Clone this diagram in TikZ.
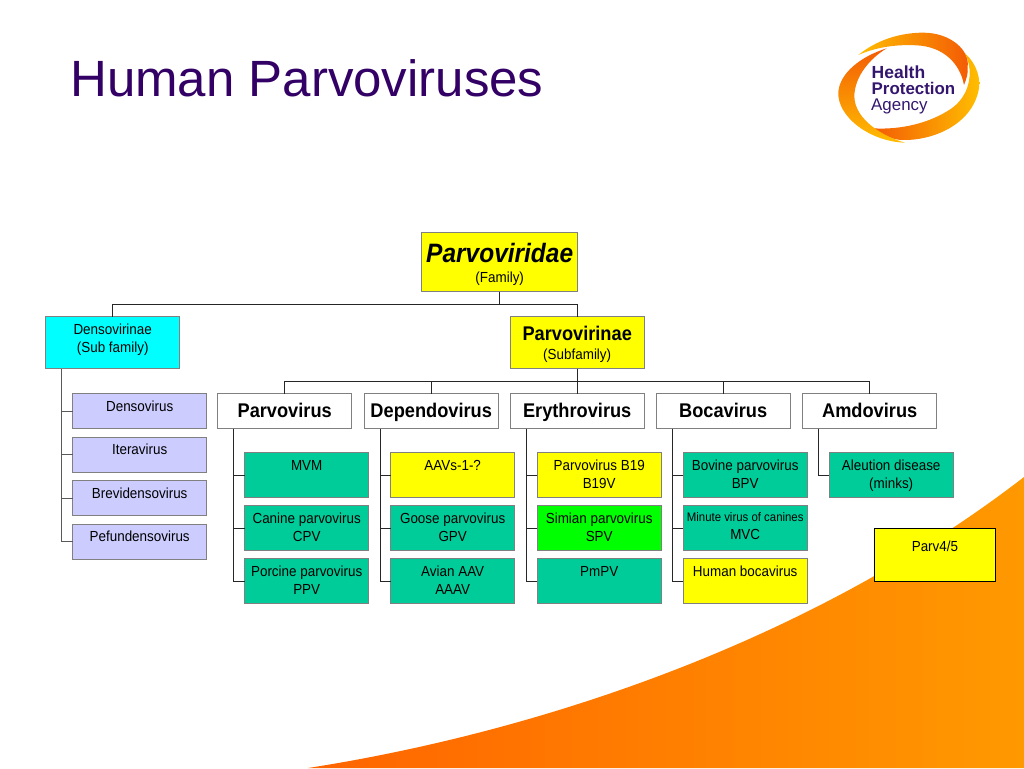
\documentclass[tikz,border=0pt]{standalone}
\usepackage{fontspec}
\setmainfont[FakeStretch=0.92]{Liberation Sans}
\newfontfamily\plainface{Liberation Sans}
\definecolor{hpatitle}{RGB}{51,0,102}
\definecolor{hpalogo}{RGB}{52,22,110}
\definecolor{seagreen}{RGB}{0,204,153}
\definecolor{lilac}{RGB}{204,204,255}
\definecolor{edgegrey}{RGB}{128,128,128}
\definecolor{swirlA}{RGB}{255,190,0}
\definecolor{swirlB}{RGB}{243,90,5}
\definecolor{pureyellow}{RGB}{255,255,0}
\definecolor{purecyan}{RGB}{0,255,255}
\definecolor{purelime}{RGB}{0,255,0}
\newcommand{\orgbox}[8]{%
  \pgfmathsetmacro{\bw}{#5-#3}\pgfmathsetmacro{\bh}{#6-#4}%
  \pgfmathsetmacro{\cx}{(#3+#5)/2-0.3}\pgfmathsetmacro{\cy}{(#4+#6)/2-0.3}%
  \node[orgnode,#2] (#1) at (\cx,\cy)
    {\parbox[t][\bh pt][t]{\bw pt}{\centering\rule{0pt}{\dimexpr #7pt-0.5pt\relax}#8}};}
\newcommand{\sized}[2]{\fontsize{#1}{#2}\selectfont}
\tikzset{
  orgnode/.style={draw=edgegrey,line width=0.9pt,inner sep=0pt,outer sep=0pt,
    font=\fontsize{14.6}{18}\selectfont,text=black},
  genus/.style={fill=white,font=\fontsize{19.8}{18}\selectfont\bfseries},
  leafgreen/.style={fill=seagreen},
  leafyellow/.style={fill=pureyellow},
  leaflime/.style={fill=purelime},
  leaflilac/.style={fill=lilac},
  link/.style={draw=black!85,line width=1pt},
  logotext/.style={anchor=base west,text=hpalogo,inner sep=0pt}
}
\begin{document}
\begin{tikzpicture}[x=1pt,y=-1pt]
\useasboundingbox (0,0) rectangle (1024,768);
% background swoosh
\begin{scope}
  \clip (308,768) .. controls (520,735) and (800,650) .. (1024,477) -- (1024,768) -- cycle;
  \shade[left color={rgb,255:red,255;green,100;blue,0},right color={rgb,255:red,255;green,153;blue,0}]
    (308,470) rectangle (1024,768);
\end{scope}
% title
\node[anchor=base west,inner sep=0pt,text=hpatitle,font=\plainface\fontsize{51}{55}\selectfont] (title) at (70,96) {Human Parvoviruses};
% logo
\begin{scope}[shift={(820,20)},x=0.3333pt,y=-0.3333pt]
  \begin{scope}
    \clip (115,105) .. controls (170,60) and (240,38) .. (310,38) .. controls (390,38) and (450,90) .. (443,140) .. controls (445,160) and (440,175) .. (432,195) .. controls (420,130) and (370,80) .. (290,76) .. controls (220,72) and (160,85) .. (115,105) -- cycle;
    \shade[left color=swirlA,right color=swirlB] (110,30) rectangle (450,200);
  \end{scope}
  \begin{scope}
    \clip (435,100) .. controls (470,130) and (485,180) .. (475,215) .. controls (450,320) and (330,362) .. (250,360) .. controls (215,360) and (185,345) .. (160,325) .. controls (240,330) and (330,310) .. (395,265) .. controls (445,230) and (465,160) .. (435,100) -- cycle;
    \shade[left color=swirlB,right color=swirlA] (155,95) rectangle (480,365);
  \end{scope}
  \begin{scope}
    \clip (200,85) .. controls (120,110) and (60,160) .. (55,215) .. controls (50,290) and (150,365) .. (255,368) .. controls (190,350) and (105,300) .. (103,230) .. controls (103,170) and (150,115) .. (200,85) -- cycle;
    \shade[top color=swirlB,bottom color=swirlA] (50,80) rectangle (260,370);
  \end{scope}
\end{scope}
\node[logotext,font=\plainface\fontsize{17.5}{18}\selectfont\bfseries] (logoa) at (871.5,78) {Health};
\node[logotext,font=\plainface\fontsize{16.9}{18}\selectfont\bfseries] (logob) at (871.5,94) {Protection};
\node[logotext,font=\plainface\fontsize{16.9}{18}\selectfont] (logoc) at (871,110.5) {Agency};
% top levels
\orgbox{family}{leafyellow}{422}{233}{578}{292}{30}{{\sized{26.6}{20}\bfseries\itshape Parvoviridae}\\[0pt]\sized{14.6}{20}(Family)}
\orgbox{parvoSub}{leafyellow}{510.5}{317}{644.5}{369}{24}{{\sized{19.8}{19}\bfseries Parvovirinae}\\\sized{14.6}{19}(Subfamily)}
\orgbox{densoSub}{fill=purecyan}{46}{317}{180}{369}{18}{Densovirinae\\(Sub family)}
% genera
\orgbox{gParvo}{genus}{218}{394}{352}{429}{24}{Parvovirus}
\orgbox{gDepend}{genus}{364.5}{394}{498.5}{429}{24}{Dependovirus}
\orgbox{gEryth}{genus}{510.5}{394}{644.5}{429}{24}{Erythrovirus}
\orgbox{gBoca}{genus}{656.5}{394}{790.5}{429}{24}{Bocavirus}
\orgbox{gAmdo}{genus}{803}{394}{937}{429}{24}{Amdovirus}
% densovirinae leaves
\orgbox{dA}{leaflilac}{73}{394}{207}{429}{18}{Densovirus}
\orgbox{dB}{leaflilac}{73}{437.5}{207}{472.5}{18}{Iteravirus}
\orgbox{dC}{leaflilac}{73}{481}{207}{516}{18}{Brevidensovirus}
\orgbox{dD}{leaflilac}{73}{524.5}{207}{559.5}{18}{Pefundensovirus}
% parvovirus leaves
\orgbox{pA}{leafgreen}{245}{453}{369}{498}{18}{MVM}
\orgbox{pB}{leafgreen}{245}{506}{369}{551}{18}{Canine parvovirus\\CPV}
\orgbox{pC}{leafgreen}{245}{559}{369}{604}{18}{Porcine parvovirus\\PPV}
% dependovirus leaves
\orgbox{qA}{leafyellow}{391}{453}{515}{498}{18}{AAVs-1-?}
\orgbox{qB}{leafgreen}{391}{506}{515}{551}{18}{Goose parvovirus\\GPV}
\orgbox{qC}{leafgreen}{391}{559}{515}{604}{18}{Avian AAV\\AAAV}
% erythrovirus leaves
\orgbox{eA}{leafyellow}{537.5}{453}{661.5}{498}{18}{Parvovirus B19\\B19V}
\orgbox{eB}{leaflime}{537.5}{506}{661.5}{551}{18}{Simian parvovirus\\SPV}
\orgbox{eC}{leafgreen}{537.5}{559}{661.5}{604}{18}{PmPV}
% bocavirus leaves
\orgbox{bA}{leafgreen}{683.5}{453}{807.5}{498}{18}{Bovine parvovirus\\BPV}
\orgbox{bB}{leafgreen}{683.5}{506}{807.5}{551}{16.5}{{\sized{12.4}{17}Minute virus of canines}\\MVC}
\orgbox{bC}{leafyellow}{683.5}{559}{807.5}{604}{18}{Human bocavirus}
% amdovirus leaf
\orgbox{aA}{leafgreen}{829.5}{453}{953.5}{498}{18}{Aleution disease\\(minks)}
% lone box
\orgbox{parvFour}{leafyellow,draw=black}{874.5}{528.5}{996}{582}{23.5}{Parv4/5}
% connectors
\coordinate (busTop) at (0,304.5);
\coordinate (busGen) at (0,381);
\draw[link] (family.south) -- (family.south |- busTop);
\draw[link] (densoSub.north) |- (parvoSub.north |- busTop) -- (parvoSub.north);
\draw[link] (parvoSub.south) -- (gEryth.north);
\draw[link] (gParvo.north) |- (gAmdo.north |- busGen) -- (gAmdo.north);
\draw[link] (gDepend.north) -- (gDepend.north |- busGen);
\draw[link] (gBoca.north) -- (gBoca.north |- busGen);
% trunks
\draw[link,draw=black!65,line width=1.2pt] ([xshift=16pt]densoSub.south west) |- (dD.west);
\foreach \leaf in {dA,dB,dC}
  \draw[link,draw=black!65,line width=1.2pt] ([xshift=16pt]densoSub.south west |- \leaf.west) -- (\leaf.west);
\draw[link] ([xshift=16pt]gParvo.south west) |- (pC.west);
\draw[link] ([xshift=16pt]gParvo.south west |- pA.west) -- (pA.west);
\draw[link] ([xshift=16pt]gParvo.south west |- pB.west) -- (pB.west);
\draw[link] ([xshift=16pt]gDepend.south west) |- (qC.west);
\draw[link] ([xshift=16pt]gDepend.south west |- qA.west) -- (qA.west);
\draw[link] ([xshift=16pt]gDepend.south west |- qB.west) -- (qB.west);
\draw[link] ([xshift=16pt]gEryth.south west) |- (eC.west);
\draw[link] ([xshift=16pt]gEryth.south west |- eA.west) -- (eA.west);
\draw[link] ([xshift=16pt]gEryth.south west |- eB.west) -- (eB.west);
\draw[link] ([xshift=16pt]gBoca.south west) |- (bC.west);
\draw[link] ([xshift=16pt]gBoca.south west |- bA.west) -- (bA.west);
\draw[link] ([xshift=16pt]gBoca.south west |- bB.west) -- (bB.west);
\draw[link] ([xshift=16pt]gAmdo.south west) |- (aA.west);
\end{tikzpicture}
\end{document}
